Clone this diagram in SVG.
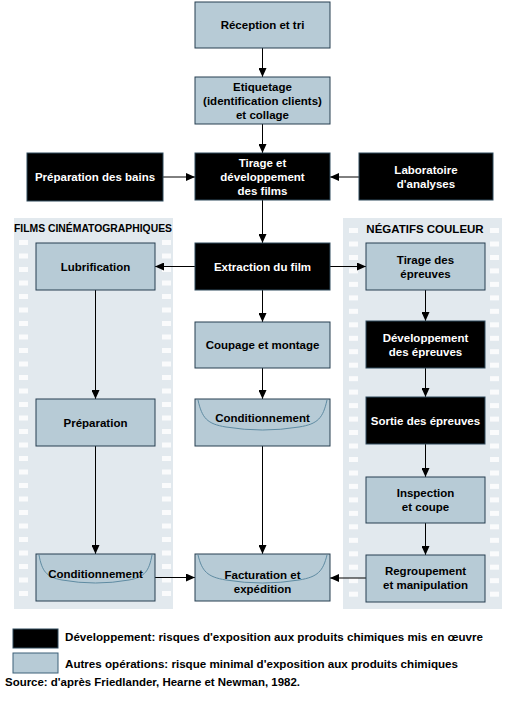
<svg xmlns="http://www.w3.org/2000/svg" width="506" height="703" viewBox="0 0 506 703">
<style>
text{font-family:"Liberation Sans",Arial,sans-serif;font-weight:bold;font-size:11.5px}
.l{fill:#b7cbd6;stroke:#263f50;stroke-width:1}
.d{fill:#000;stroke:#2f4a5c;stroke-width:1}
.tl{fill:#000;text-anchor:middle}
.td{fill:#fff;text-anchor:middle}
.panel{fill:#e2e9ee}
.hole{fill:#fafbfc}
.c{stroke:#000;stroke-width:1;fill:none}
.cup{fill:none;stroke:#5f8ba2;stroke-width:1}
</style>
<defs>
<marker id="a" markerUnits="userSpaceOnUse" markerWidth="10" markerHeight="8" refX="9" refY="4" orient="auto">
<path d="M0,0 L9,4 L0,8 Z" fill="#000"/>
</marker>
<rect id="h" width="9" height="5"/>
</defs>

<g id="panel-films">
<rect class="panel" x="14" y="218" width="159" height="391"/>
<g class="hole">
<use href="#h" x="19" y="240"/><use href="#h" x="19" y="253.5"/><use href="#h" x="19" y="267"/><use href="#h" x="19" y="280.5"/><use href="#h" x="19" y="294"/><use href="#h" x="19" y="307.5"/><use href="#h" x="19" y="321"/><use href="#h" x="19" y="334.5"/><use href="#h" x="19" y="348"/><use href="#h" x="19" y="361.5"/><use href="#h" x="19" y="375"/><use href="#h" x="19" y="388.5"/><use href="#h" x="19" y="402"/><use href="#h" x="19" y="415.5"/><use href="#h" x="19" y="429"/><use href="#h" x="19" y="442.5"/><use href="#h" x="19" y="456"/><use href="#h" x="19" y="469.5"/><use href="#h" x="19" y="483"/><use href="#h" x="19" y="496.5"/><use href="#h" x="19" y="510"/><use href="#h" x="19" y="523.5"/><use href="#h" x="19" y="537"/><use href="#h" x="19" y="550.5"/><use href="#h" x="19" y="564"/><use href="#h" x="19" y="577.5"/><use href="#h" x="19" y="591"/>
<use href="#h" x="162" y="240"/><use href="#h" x="162" y="253.5"/><use href="#h" x="162" y="267"/><use href="#h" x="162" y="280.5"/><use href="#h" x="162" y="294"/><use href="#h" x="162" y="307.5"/><use href="#h" x="162" y="321"/><use href="#h" x="162" y="334.5"/><use href="#h" x="162" y="348"/><use href="#h" x="162" y="361.5"/><use href="#h" x="162" y="375"/><use href="#h" x="162" y="388.5"/><use href="#h" x="162" y="402"/><use href="#h" x="162" y="415.5"/><use href="#h" x="162" y="429"/><use href="#h" x="162" y="442.5"/><use href="#h" x="162" y="456"/><use href="#h" x="162" y="469.5"/><use href="#h" x="162" y="483"/><use href="#h" x="162" y="496.5"/><use href="#h" x="162" y="510"/><use href="#h" x="162" y="523.5"/><use href="#h" x="162" y="537"/><use href="#h" x="162" y="550.5"/><use href="#h" x="162" y="564"/><use href="#h" x="162" y="577.5"/><use href="#h" x="162" y="591"/>
</g>
<text x="14" y="232" textLength="158" lengthAdjust="spacingAndGlyphs">FILMS CINÉMATOGRAPHIQUES</text>
</g>

<g id="panel-negatifs">
<rect class="panel" x="343" y="218" width="159" height="391"/>
<g class="hole">
<use href="#h" x="349" y="228"/><use href="#h" x="349" y="241.5"/><use href="#h" x="349" y="255"/><use href="#h" x="349" y="268.4"/><use href="#h" x="349" y="281.9"/><use href="#h" x="349" y="295.4"/><use href="#h" x="349" y="308.8"/><use href="#h" x="349" y="322.3"/><use href="#h" x="349" y="335.8"/><use href="#h" x="349" y="349.2"/><use href="#h" x="349" y="362.7"/><use href="#h" x="349" y="376.2"/><use href="#h" x="349" y="389.6"/><use href="#h" x="349" y="403.1"/><use href="#h" x="349" y="416.6"/><use href="#h" x="349" y="430"/><use href="#h" x="349" y="443.5"/><use href="#h" x="349" y="457"/><use href="#h" x="349" y="470.5"/><use href="#h" x="349" y="483.9"/><use href="#h" x="349" y="497.4"/><use href="#h" x="349" y="510.9"/><use href="#h" x="349" y="524.3"/><use href="#h" x="349" y="537.8"/><use href="#h" x="349" y="551.3"/><use href="#h" x="349" y="564.7"/><use href="#h" x="349" y="578.2"/><use href="#h" x="349" y="591.7"/>
<use href="#h" x="490" y="228"/><use href="#h" x="490" y="241.5"/><use href="#h" x="490" y="255"/><use href="#h" x="490" y="268.4"/><use href="#h" x="490" y="281.9"/><use href="#h" x="490" y="295.4"/><use href="#h" x="490" y="308.8"/><use href="#h" x="490" y="322.3"/><use href="#h" x="490" y="335.8"/><use href="#h" x="490" y="349.2"/><use href="#h" x="490" y="362.7"/><use href="#h" x="490" y="376.2"/><use href="#h" x="490" y="389.6"/><use href="#h" x="490" y="403.1"/><use href="#h" x="490" y="416.6"/><use href="#h" x="490" y="430"/><use href="#h" x="490" y="443.5"/><use href="#h" x="490" y="457"/><use href="#h" x="490" y="470.5"/><use href="#h" x="490" y="483.9"/><use href="#h" x="490" y="497.4"/><use href="#h" x="490" y="510.9"/><use href="#h" x="490" y="524.3"/><use href="#h" x="490" y="537.8"/><use href="#h" x="490" y="551.3"/><use href="#h" x="490" y="564.7"/><use href="#h" x="490" y="578.2"/><use href="#h" x="490" y="591.7"/>
</g>
<text x="425" y="233" text-anchor="middle">NÉGATIFS COULEUR</text>
</g>

<g id="connectors">
<line class="c" x1="262.5" y1="48" x2="262.5" y2="77" marker-end="url(#a)"/>
<line class="c" x1="262.5" y1="124" x2="262.5" y2="153" marker-end="url(#a)"/>
<line class="c" x1="163" y1="177" x2="195" y2="177" marker-end="url(#a)"/>
<line class="c" x1="359" y1="177" x2="330" y2="177" marker-end="url(#a)"/>
<line class="c" x1="262.5" y1="200" x2="262.5" y2="243" marker-end="url(#a)"/>
<line class="c" x1="195" y1="266.5" x2="155" y2="266.5" marker-end="url(#a)"/>
<line class="c" x1="330" y1="266.5" x2="366" y2="266.5" marker-end="url(#a)"/>
<line class="c" x1="262.5" y1="290" x2="262.5" y2="322" marker-end="url(#a)"/>
<line class="c" x1="262.5" y1="368" x2="262.5" y2="399" marker-end="url(#a)"/>
<line class="c" x1="262.5" y1="446" x2="262.5" y2="554" marker-end="url(#a)"/>
<line class="c" x1="95.5" y1="290" x2="95.5" y2="399" marker-end="url(#a)"/>
<line class="c" x1="95.5" y1="446" x2="95.5" y2="554" marker-end="url(#a)"/>
<line class="c" x1="155" y1="577.5" x2="195" y2="577.5" marker-end="url(#a)"/>
<line class="c" x1="425.5" y1="290" x2="425.5" y2="321" marker-end="url(#a)"/>
<line class="c" x1="425.5" y1="368" x2="425.5" y2="397" marker-end="url(#a)"/>
<line class="c" x1="425.5" y1="444" x2="425.5" y2="477" marker-end="url(#a)"/>
<line class="c" x1="425.5" y1="523" x2="425.5" y2="555" marker-end="url(#a)"/>
<line class="c" x1="366" y1="578" x2="330" y2="578" marker-end="url(#a)"/>
</g>

<g id="reception">
<rect class="l" x="195" y="2" width="135" height="46"/>
<text class="tl" x="262.5" y="29">Réception et tri</text>
</g>
<g id="etiquetage">
<rect class="l" x="195" y="77" width="135" height="47"/>
<text class="tl" x="262.5" y="90.5">Etiquetage</text>
<text class="tl" x="262.5" y="104.5">(identification clients)</text>
<text class="tl" x="262.5" y="118.5">et collage</text>
</g>
<g id="preparation-bains">
<rect class="d" x="27" y="153" width="136" height="48"/>
<text class="td" x="95" y="181">Préparation des bains</text>
</g>
<g id="tirage-developpement">
<rect class="d" x="195" y="153" width="135" height="47"/>
<text class="td" x="262.5" y="167">Tirage et</text>
<text class="td" x="262.5" y="181">développement</text>
<text class="td" x="262.5" y="195">des films</text>
</g>
<g id="laboratoire">
<rect class="d" x="359" y="153" width="134" height="47"/>
<text class="td" x="426" y="173.5">Laboratoire</text>
<text class="td" x="426" y="187.5">d'analyses</text>
</g>
<g id="extraction">
<rect class="d" x="195" y="243" width="135" height="47"/>
<text class="td" x="262.5" y="270.5">Extraction du film</text>
</g>
<g id="lubrification">
<rect class="l" x="36" y="243" width="119" height="47"/>
<text class="tl" x="95.5" y="270.5">Lubrification</text>
</g>
<g id="tirage-epreuves">
<rect class="l" x="366" y="243" width="119" height="47"/>
<text class="tl" x="425.5" y="264">Tirage des</text>
<text class="tl" x="425.5" y="278">épreuves</text>
</g>
<g id="coupage">
<rect class="l" x="195" y="322" width="135" height="46"/>
<text class="tl" x="262.5" y="349">Coupage et montage</text>
</g>
<g id="conditionnement-centre">
<rect class="l" x="195" y="399" width="135" height="47"/>
<path class="cup" d="M198,400 C202,418 207,424 226,427 Q262.5,433 299,427 C318,424 323,418 327,400"/>
<text class="tl" x="262.5" y="421.5">Conditionnement</text>
</g>
<g id="developpement-epreuves">
<rect class="d" x="366" y="321" width="119" height="47"/>
<text class="td" x="425.5" y="341.5">Développement</text>
<text class="td" x="425.5" y="355.5">des épreuves</text>
</g>
<g id="sortie-epreuves">
<rect class="d" x="366" y="397" width="119" height="47"/>
<text class="td" x="425.5" y="424.5">Sortie des épreuves</text>
</g>
<g id="preparation">
<rect class="l" x="36" y="399" width="119" height="47"/>
<text class="tl" x="95.5" y="426.5">Préparation</text>
</g>
<g id="inspection">
<rect class="l" x="366" y="477" width="119" height="46"/>
<text class="tl" x="425.5" y="497">Inspection</text>
<text class="tl" x="425.5" y="511">et coupe</text>
</g>
<g id="conditionnement-films">
<rect class="l" x="36" y="554" width="119" height="47"/>
<path class="cup" d="M39,555 C42,571 46,577 62,580 Q95.5,586 129,580 C145,577 149,571 152,555"/>
<text class="tl" x="95.5" y="578">Conditionnement</text>
</g>
<g id="facturation">
<rect class="l" x="195" y="554" width="135" height="47"/>
<path class="cup" d="M198,555 C202,571 207,577 226,580 Q262.5,586 299,580 C318,577 323,571 327,555"/>
<text class="tl" x="262.5" y="579">Facturation et</text>
<text class="tl" x="262.5" y="593">expédition</text>
</g>
<g id="regroupement">
<rect class="l" x="366" y="555" width="119" height="47"/>
<text class="tl" x="425.5" y="575">Regroupement</text>
<text class="tl" x="425.5" y="589">et manipulation</text>
</g>

<g id="legend">
<rect class="d" x="13" y="629" width="45" height="19"/>
<text x="65" y="641" textLength="418" lengthAdjust="spacingAndGlyphs">Développement: risques d'exposition aux produits chimiques mis en œuvre</text>
<rect class="l" x="13" y="653" width="45" height="20" style="stroke:#3d6078"/>
<text x="65" y="668" textLength="393" lengthAdjust="spacingAndGlyphs">Autres opérations: risque minimal d'exposition aux produits chimiques</text>
<text x="5" y="686" textLength="295" lengthAdjust="spacingAndGlyphs">Source: d'après Friedlander, Hearne et Newman, 1982.</text>
</g>
</svg>
